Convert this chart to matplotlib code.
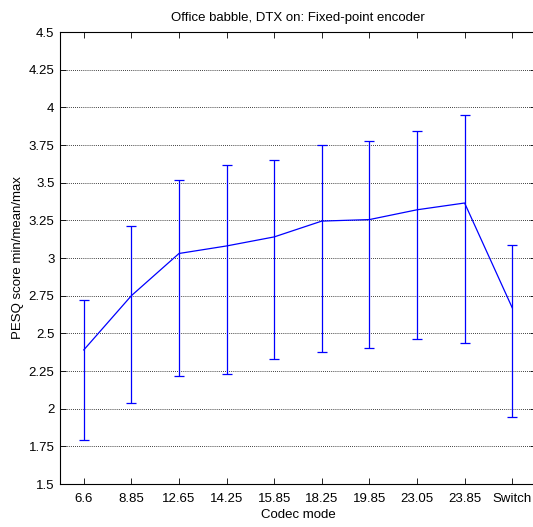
import matplotlib
matplotlib.use("Agg")
import matplotlib.pyplot as plt
import numpy as np

plt.rcParams['font.family'] = ['Liberation Sans', 'DejaVu Sans']

categories = ["6.6", "8.85", "12.65", "14.25", "15.85", "18.25", "19.85", "23.05", "23.85", "Switch"]
mean_vals = [2.39, 2.75, 3.03, 3.08, 3.14, 3.245, 3.255, 3.32, 3.365, 2.67]
max_vals = [2.72, 3.21, 3.52, 3.62, 3.65, 3.75, 3.775, 3.84, 3.95, 3.085]
min_vals = [1.79, 2.035, 2.215, 2.23, 2.33, 2.375, 2.40, 2.465, 2.435, 1.945]
y_ticks = [1.5, 1.75, 2, 2.25, 2.5, 2.75, 3, 3.25, 3.5, 3.75, 4, 4.25, 4.5]
y_tick_labels = ["1.5", "1.75", "2", "2.25", "2.5", "2.75", "3", "3.25", "3.5", "3.75", "4", "4.25", "4.5"]

fig = plt.figure(figsize=(5.33, 5.27), dpi=100)
ax = fig.add_axes([60/533, 1-484/527, 476/533, (484-32)/527])

x = np.arange(1, len(categories)+1)
mean = np.array(mean_vals)
yerr = [mean - np.array(min_vals), np.array(max_vals) - mean]
ax.errorbar(x, mean, yerr=yerr, color='#0000ff', lw=0.9, elinewidth=0.9,
            capsize=3.6, capthick=0.9)

ax.set_xlim(0.5, 10.5)
ax.set_ylim(1.5, 4.5)
ax.set_xticks(x)
ax.set_xticklabels(categories)
ax.set_yticks(y_ticks)
ax.set_yticklabels(y_tick_labels)
ax.yaxis.grid(True, linestyle=(0, (1, 1.5)), color='black', lw=0.6)
ax.tick_params(direction='in', top=True, right=True, labelsize=9.5, length=4, width=0.6, pad=4)
ax.tick_params(axis='x', pad=6.5)
for s in ax.spines.values():
    s.set_linewidth(0.8)
ax.set_xlabel("Codec mode", fontsize=9.5, labelpad=3)
ax.set_ylabel("PESQ score min/mean/max", fontsize=9.5, labelpad=3)
ax.set_title("Office babble, DTX on: Fixed-point encoder", fontsize=9.5, pad=8)

fig.savefig("out.png", dpi=100)
